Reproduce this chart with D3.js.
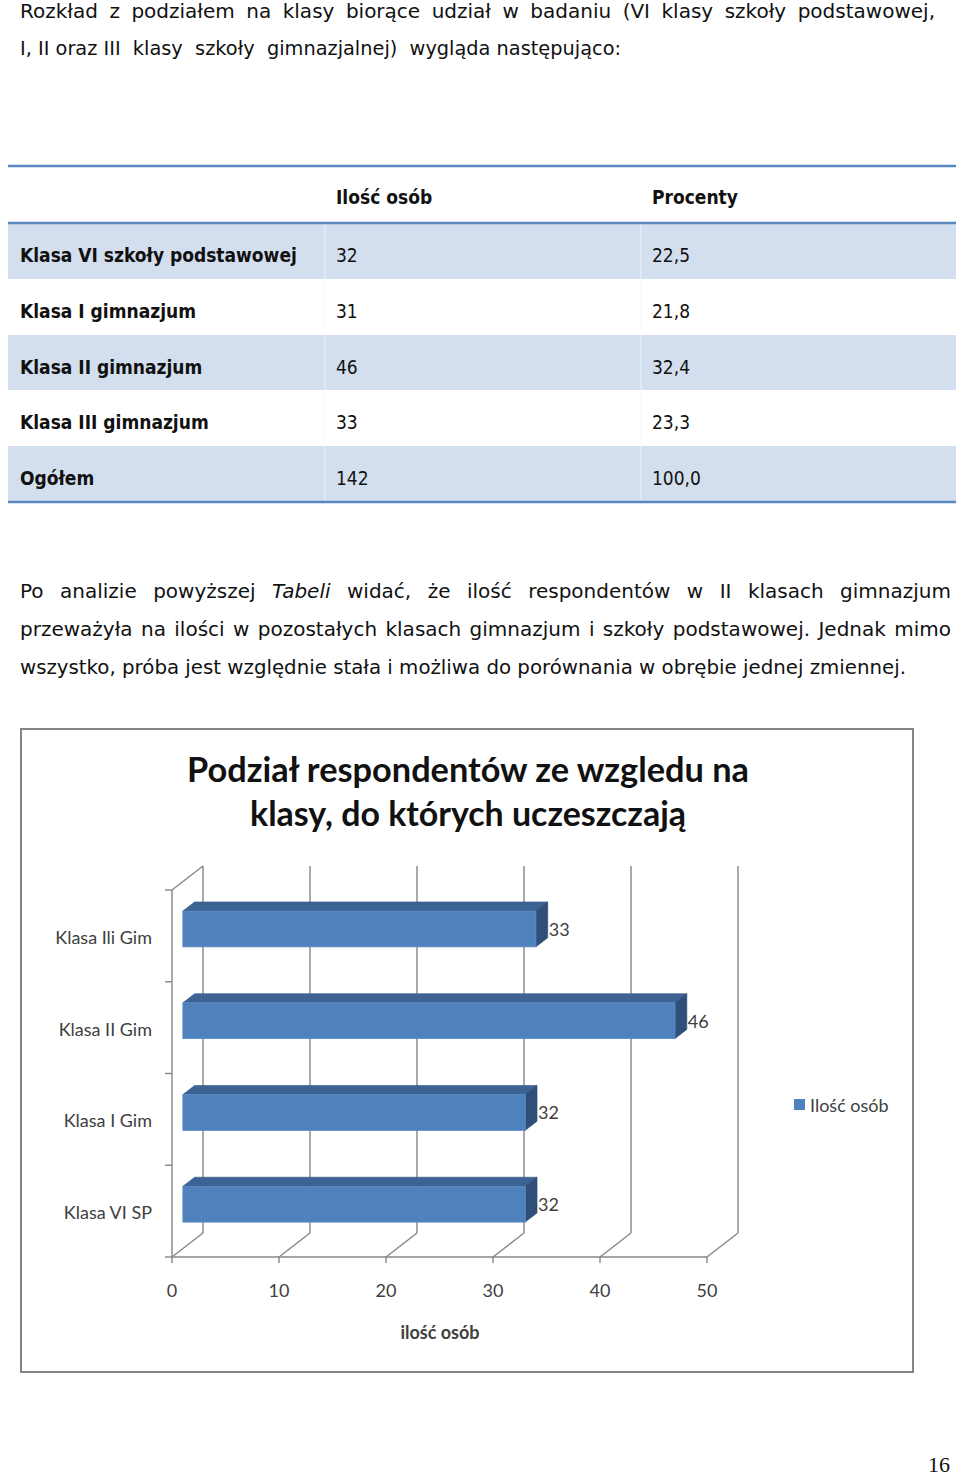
<!DOCTYPE html>
<html><head><meta charset="utf-8">
<script src="https://cdn.jsdelivr.net/npm/d3@7"></script>
<style>
body{margin:0;background:#fff}
.doc{font-family:"DejaVu Sans",sans-serif;font-size:20px;fill:#111}
.tbl{font-family:"DejaVu Sans Condensed","DejaVu Sans",sans-serif;font-size:19px;fill:#111}
.ch{font-family:Lato,"Open Sans",sans-serif;fill:#404040;font-size:18px}
</style>
</head><body><svg id="c" width="960" height="1477"></svg>
<script>
// ---------- data ----------
const introLine1 = "Rozkład z podziałem na klasy biorące udział w badaniu (VI klasy szkoły podstawowej,";
const introLine2 = "I, II oraz III  klasy  szkoły  gimnazjalnej)  wygląda następująco:";
const tableHeader = ["", "Ilość osób", "Procenty"];
const tableRows = ["Klasa VI szkoły podstawowej", "Klasa I gimnazjum", "Klasa II gimnazjum", "Klasa III gimnazjum", "Ogółem"];
const tableCounts = ["32", "31", "46", "33", "142"];
const tablePercents = ["22,5", "21,8", "32,4", "23,3", "100,0"];
const paraLine1 = [["Po"],["analizie"],["powyższej"],["Tabeli",true],["widać,"],["że"],["ilość"],["respondentów"],["w"],["II"],["klasach"],["gimnazjum"]];
const paraLine2 = "przeważyła na ilości w pozostałych klasach gimnazjum i szkoły podstawowej. Jednak mimo";
const paraLine3 = "wszystko, próba jest względnie stała i możliwa do porównania w obrębie jednej zmiennej.";
const chartTitle = ["Podział respondentów ze wzgledu na", "klasy, do których uczeszczają"];
const categories = ["Klasa VI SP", "Klasa I Gim", "Klasa II Gim", "Klasa Ili Gim"];
const values = [32, 32, 46, 33];
const xTicks = [0, 10, 20, 30, 40, 50];
const axisTitle = "ilość osób";
const legendLabel = "Ilość osób";
const pageNumber = "16";

const svg = d3.select("#c");

// ---------- helpers ----------
function justify(words, x0, x1, y) {
  const g = svg.append("g").attr("class","doc");
  const nodes = words.map(w => g.append("text").attr("y", y)
      .style("font-style", w[1] ? "italic" : null).text(w[0]));
  const widths = nodes.map(n => n.node().getComputedTextLength());
  const gap = (x1 - x0 - d3.sum(widths)) / (words.length - 1);
  let x = x0;
  nodes.forEach((n, i) => { n.attr("x", x); x += widths[i] + gap; });
}
function plain(str, x, y, w) {
  const t = svg.append("text").attr("class","doc").attr("x", x).attr("y", y)
    .style("white-space","pre").text(str);
  if (w) t.attr("textLength", w).attr("lengthAdjust","spacingAndGlyphs");
  return t;
}

// ---------- intro text ----------
justify(introLine1.split(" ").map(s => [s]), 20, 935, 18);
plain(introLine2, 20, 55, 601);

// ---------- table ----------
const rowEdges = [166, 223, 279, 335, 390, 446, 502];
const colX = [20, 336, 652];
const tg = svg.append("g");
tableRows.forEach((r, i) => {
  if (i % 2 === 0) tg.append("rect").attr("x", 8).attr("y", rowEdges[i+1]).attr("width", 948)
    .attr("height", rowEdges[i+2] - rowEdges[i+1]).attr("fill", "#d3dfee");
});
[325, 641].forEach(x => tg.append("line").attr("x1", x).attr("x2", x).attr("y1", 224).attr("y2", 502)
  .attr("stroke", "#f4f7fb").attr("stroke-width", 0.8));
[166, 223, 502].forEach(y => tg.append("line").attr("x1", 8).attr("x2", 956).attr("y1", y).attr("y2", y)
  .attr("stroke", "#5b87c0").attr("stroke-width", 2.5));
tableHeader.forEach((h, j) => tg.append("text").attr("class","tbl").attr("x", colX[j]).attr("y", 204)
  .style("font-weight","bold").text(h));
tableRows.forEach((r, i) => {
  const cy = (rowEdges[i+1] + rowEdges[i+2]) / 2 + 11;
  tg.append("text").attr("class","tbl").attr("x", colX[0]).attr("y", cy).style("font-weight","bold").text(r);
  tg.append("text").attr("class","tbl").attr("x", colX[1]).attr("y", cy).text(tableCounts[i]);
  tg.append("text").attr("class","tbl").attr("x", colX[2]).attr("y", cy).text(tablePercents[i]);
});

// ---------- paragraph ----------
justify(paraLine1, 20, 951, 598);
justify(paraLine2.split(" ").map(s => [s]), 20, 951, 636);
plain(paraLine3, 20, 674, 886);

// ---------- chart ----------
svg.append("rect").attr("x", 21).attr("y", 729).attr("width", 892).attr("height", 643)
  .attr("fill", "#fff").attr("stroke", "#858585").attr("stroke-width", 2);

chartTitle.forEach((t, i) => svg.append("text").attr("x", 468).attr("y", 782 + i * 44)
  .attr("text-anchor", "middle").style("font-family", "Lato,'Open Sans',sans-serif")
  .style("font-weight", "bold").style("font-size", "34px").attr("fill", "#111")
  .attr("textLength", i === 0 ? 562 : 436).attr("lengthAdjust", "spacingAndGlyphs").text(t));

const x = d3.scaleLinear().domain([0, 50]).range([172, 707]);
const y = d3.scaleBand().domain(categories).range([1257, 890]);
const D = { dx: 31, dy: -24 };          // full depth offset
const t0 = 0.35, t1 = 0.73;             // bar depth span
const yBottom = 1257, yTop = 890;
const bw = y.bandwidth(), barH = bw * 0.39;
const grid = "#868686";
const cg = svg.append("g").attr("fill", "none").attr("stroke", grid).attr("stroke-width", 1.4);

// back wall vertical gridlines
xTicks.forEach(v => cg.append("line").attr("x1", x(v) + D.dx).attr("x2", x(v) + D.dx)
  .attr("y1", yBottom + D.dy).attr("y2", yTop + D.dy));
// floor diagonals and front floor line with ticks
xTicks.forEach(v => {
  cg.append("line").attr("x1", x(v)).attr("y1", yBottom).attr("x2", x(v) + D.dx).attr("y2", yBottom + D.dy);
  cg.append("line").attr("x1", x(v)).attr("y1", yBottom).attr("x2", x(v)).attr("y2", yBottom + 6);
});
cg.append("line").attr("x1", x(0)).attr("x2", x(50)).attr("y1", yBottom).attr("y2", yBottom);
// left wall
cg.append("line").attr("x1", x(0)).attr("x2", x(0)).attr("y1", yTop).attr("y2", yBottom);
cg.append("line").attr("x1", x(0)).attr("y1", yTop).attr("x2", x(0) + D.dx).attr("y2", yTop + D.dy);
const edges = categories.map(c => y(c)).concat([yBottom]);
edges.forEach(e => cg.append("line").attr("x1", x(0) - 7).attr("x2", x(0)).attr("y1", e).attr("y2", e));

// bars
const bg = svg.append("g");
categories.forEach((c, i) => {
  const v = values[i];
  const cy = y(c) + bw / 2 + 1.5;
  const xa0 = x(0) + t0 * D.dx, xb0 = x(v) + t0 * D.dx;
  const xa1 = x(0) + t1 * D.dx, xb1 = x(v) + t1 * D.dx;
  const yt0 = cy - barH / 2 + t0 * D.dy, yb0 = cy + barH / 2 + t0 * D.dy;
  const yt1 = cy - barH / 2 + t1 * D.dy, yb1 = cy + barH / 2 + t1 * D.dy;
  bg.append("polygon").attr("points", [[xa0, yt0], [xb0, yt0], [xb1, yt1], [xa1, yt1]].join(" "))
    .attr("fill", "#3c6394").attr("stroke", "#34577f").attr("stroke-width", 0.6);
  bg.append("polygon").attr("points", [[xb0, yt0], [xb1, yt1], [xb1, yb1], [xb0, yb0]].join(" "))
    .attr("fill", "#2f4f78").attr("stroke", "#2a4870").attr("stroke-width", 0.6);
  bg.append("rect").attr("x", xa0).attr("y", yt0).attr("width", xb0 - xa0).attr("height", yb0 - yt0)
    .attr("fill", "#4f81bd").attr("stroke", "#5b8bc6").attr("stroke-width", 0.8);
  bg.append("text").attr("class", "ch").attr("x", xb1 + 1).attr("y", cy + t0 * D.dy)
    .attr("dominant-baseline", "central").text(v);
});

// category labels
categories.forEach(c => svg.append("text").attr("class", "ch").attr("x", 152).attr("y", y(c) + bw / 2 + 1)
  .attr("text-anchor", "end").attr("dominant-baseline", "central").text(c));
// tick labels
xTicks.forEach(v => svg.append("text").attr("class", "ch").attr("x", x(v)).attr("y", 1290)
  .attr("text-anchor", "middle").attr("dominant-baseline", "central").text(v));
// axis title
svg.append("text").attr("class", "ch").attr("x", 440).attr("y", 1332).attr("text-anchor", "middle")
  .attr("dominant-baseline", "central").style("font-weight", "bold").text(axisTitle);
// legend
svg.append("rect").attr("x", 794).attr("y", 1099).attr("width", 11).attr("height", 11).attr("fill", "#4f81bd");
svg.append("text").attr("class", "ch").attr("x", 810).attr("y", 1105).attr("dominant-baseline", "central").text(legendLabel);

// page number
svg.append("text").attr("x", 939).attr("y", 1464).attr("text-anchor", "middle").attr("dominant-baseline", "central")
  .style("font-family", "'Liberation Serif',serif").style("font-size", "22px").attr("fill", "#111").text(pageNumber);
</script>
</body></html>
